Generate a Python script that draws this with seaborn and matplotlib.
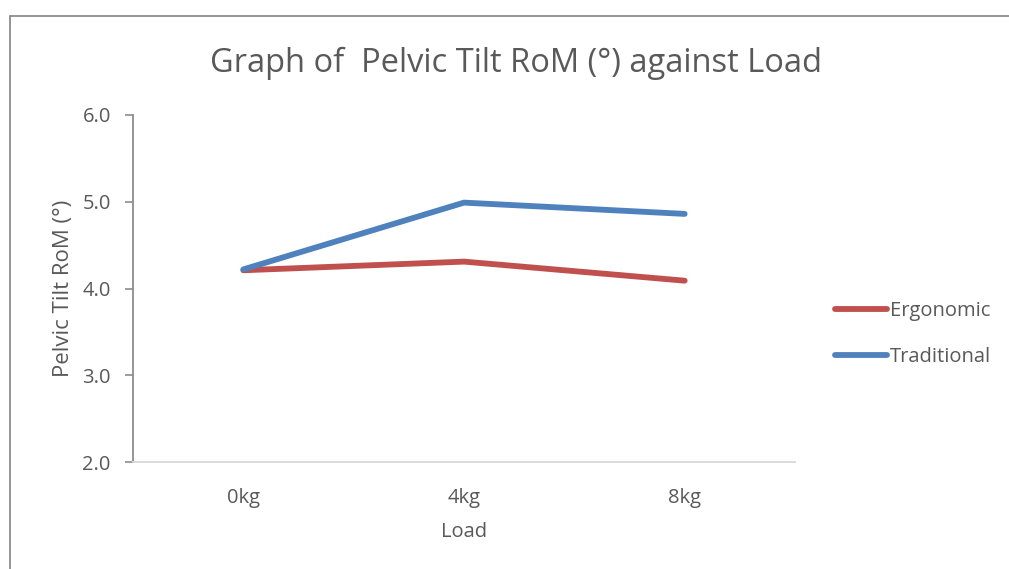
import matplotlib
matplotlib.use("Agg")
import matplotlib.pyplot as plt
import matplotlib.lines as mlines
import seaborn as sns
import pandas as pd

loads = ["0kg", "4kg", "8kg"]
ergonomic = [4.21, 4.31, 4.09]
traditional = [4.22, 4.99, 4.86]
series_names = ["Ergonomic", "Traditional"]
y_ticks = [2.0, 3.0, 4.0, 5.0, 6.0]

df = pd.DataFrame({
    "Load": loads * 2,
    "RoM": ergonomic + traditional,
    "Series": [series_names[0]] * 3 + [series_names[1]] * 3,
})
df["x"] = [0, 1, 2] * 2

sns.set_theme(style="white")
plt.rcParams["font.family"] = ["Open Sans", "DejaVu Sans"]
text_col = "#595959"
fs = 14.5

fig = plt.figure(figsize=(10.09, 5.69), dpi=100)
ax = fig.add_axes([133 / 1009, 1 - 462 / 569, (795 - 133) / 1009, (462 - 115) / 569])

palette = {"Ergonomic": "#c0504d", "Traditional": "#4f81bd"}
sns.lineplot(data=df, x="x", y="RoM", hue="Series", palette=palette,
             linewidth=4.2, ax=ax, legend=False, solid_capstyle="round")

ax.set_xlim(-0.5, 2.5)
ax.set_ylim(2.0, 6.0)
ax.set_xticks([0, 1, 2])
ax.set_xticklabels(loads)
ax.set_yticks(y_ticks)
ax.set_yticklabels([f"{v:.1f}" for v in y_ticks])
ax.tick_params(axis="y", which="both", left=True, length=6, width=1.2,
               color="#8c8c8c", labelsize=fs, labelcolor=text_col, pad=10)
ax.tick_params(axis="x", bottom=False, labelsize=fs, labelcolor=text_col, pad=13)

for side in ["top", "right"]:
    ax.spines[side].set_visible(False)
ax.spines["left"].set_color("#8c8c8c")
ax.spines["left"].set_linewidth(1.3)
ax.spines["bottom"].set_color("#d9d9d9")
ax.spines["bottom"].set_linewidth(1.3)

ax.set_xlabel("Load", fontsize=fs, color=text_col, labelpad=10)
ax.set_ylabel("Pelvic Tilt RoM (°)", fontsize=16, color=text_col, labelpad=6)

fig.text(516 / 1009, 1 - 63 / 569, "Graph of  Pelvic Tilt RoM (°) against Load",
         ha="center", va="center", fontsize=23.5, color=text_col)

handles = [mlines.Line2D([], [], color=palette[n], linewidth=4.2,
                         solid_capstyle="round", label=n) for n in series_names]
fig.legend(handles=handles, loc="center left",
           bbox_to_anchor=(817 / 1009, 1 - 334 / 569), frameon=False,
           fontsize=fs, labelcolor=text_col, handlelength=2.6, handletextpad=0.1,
           labelspacing=1.25)

# chart frame
fig.add_artist(mlines.Line2D([10 / 1009, 10 / 1009], [0, 1 - 16 / 569],
                             color="#8c8c8c", linewidth=1.3, transform=fig.transFigure))
fig.add_artist(mlines.Line2D([10 / 1009, 1], [1 - 16 / 569, 1 - 16 / 569],
                             color="#8c8c8c", linewidth=1.3, transform=fig.transFigure))

fig.savefig("out.png", dpi=100)
